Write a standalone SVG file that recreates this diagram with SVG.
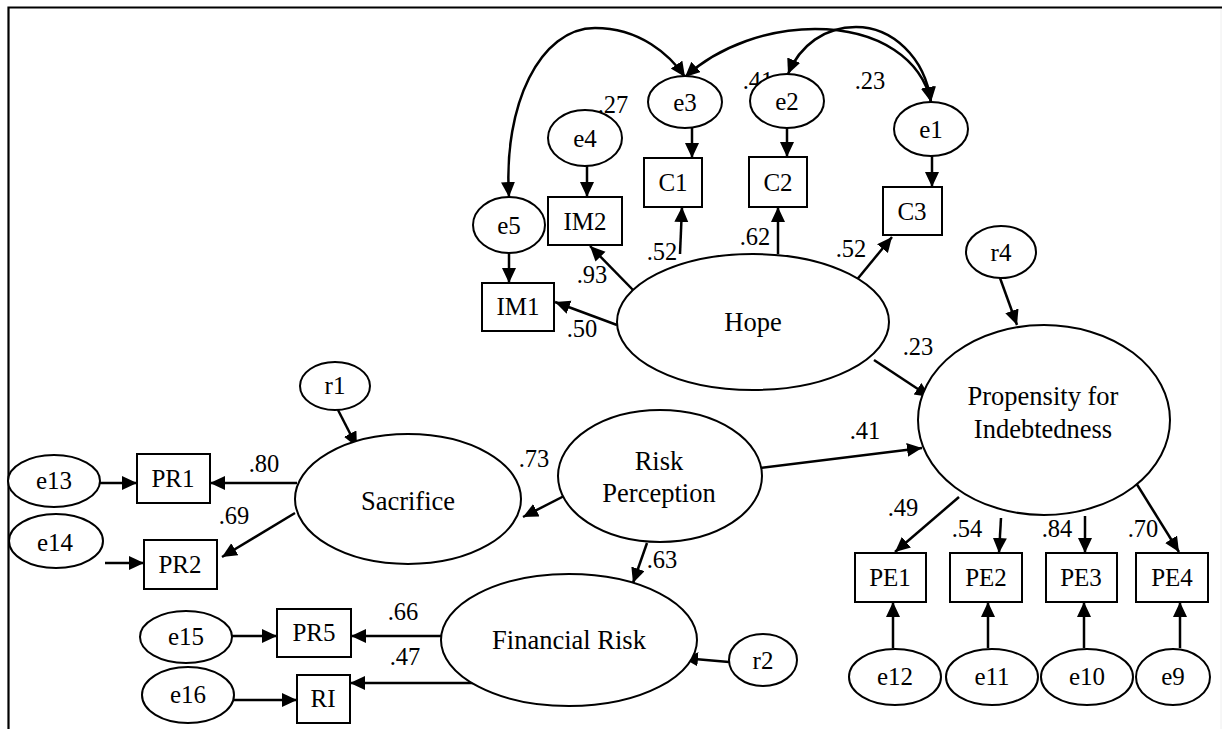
<svg xmlns="http://www.w3.org/2000/svg" width="1222" height="729" viewBox="0 0 1222 729">
<style>
text{font-family:"Liberation Serif","Times New Roman","DejaVu Serif",serif;font-size:25px;fill:#000;text-anchor:middle}
.big text{font-size:26.5px}
#labels text{font-size:24.5px}
.n ellipse,.n rect{fill:#fff;stroke:#000;stroke-width:2}
.c line,.c path{stroke:#000;stroke-width:2.5;fill:none}
.a{marker-end:url(#ah)}
.b{marker-start:url(#ah);marker-end:url(#ah)}
</style>
<defs>
<marker id="ah" markerUnits="userSpaceOnUse" markerWidth="16" markerHeight="15" refX="15" refY="7" orient="auto-start-reverse"><path d="M0,0 L15,7 L0,14 Z" fill="#000"/></marker>
</defs>
<rect width="1222" height="729" fill="#fff"/>
<path d="M8.5,729 L8.5,7.5 L1222,7.5" fill="none" stroke="#000" stroke-width="2.2"/>
<line x1="1221" y1="9" x2="1221" y2="729" stroke="#eee" stroke-width="1"/>

<g class="c" id="connectors">
<path class="b" d="M509,197 C503,105 540,28 595,28 C640,28 670,55 685,77"/>
<path class="b" d="M685,77 C720,45 770,29 815,29 C880,29 922,60 931,102"/>
<path class="b" d="M788,74 C800,45 825,27 856,27 C892,27 925,57 931,102"/>
<line class="a" x1="509" y1="253" x2="509" y2="283"/>
<line class="a" x1="587" y1="166" x2="587" y2="197"/>
<line class="a" x1="692" y1="128" x2="692" y2="158"/>
<line class="a" x1="787" y1="128" x2="787" y2="157"/>
<line class="a" x1="932" y1="156" x2="932" y2="187"/>
<line class="a" x1="617" y1="325" x2="555" y2="302"/>
<line class="a" x1="635" y1="292" x2="590" y2="246"/>
<line class="a" x1="680" y1="254" x2="682" y2="207"/>
<line class="a" x1="778" y1="254" x2="778" y2="207"/>
<line class="a" x1="855" y1="282" x2="892" y2="237"/>
<line class="a" x1="874" y1="360" x2="930" y2="397"/>
<line class="a" x1="760" y1="468" x2="922" y2="448"/>
<line class="a" x1="1000" y1="278" x2="1017" y2="325"/>
<line class="a" x1="568" y1="494" x2="523" y2="517"/>
<line class="a" x1="647" y1="543" x2="633" y2="583"/>
<line class="a" x1="338" y1="410" x2="357" y2="447"/>
<line class="a" x1="100" y1="483" x2="137" y2="483"/>
<line class="a" x1="297" y1="483" x2="210" y2="483"/>
<line class="a" x1="295" y1="513" x2="222" y2="557"/>
<line class="a" x1="105" y1="563" x2="144" y2="563"/>
<line class="a" x1="232" y1="636" x2="277" y2="636"/>
<line class="a" x1="442" y1="636" x2="351" y2="636"/>
<line class="a" x1="473" y1="683" x2="350" y2="683"/>
<line class="a" x1="233" y1="700" x2="297" y2="700"/>
<line class="a" x1="729" y1="662" x2="683" y2="658"/>
<line class="a" x1="959" y1="497" x2="895" y2="552"/>
<line class="a" x1="1001" y1="518" x2="999" y2="553"/>
<line class="a" x1="1085" y1="516" x2="1085" y2="553"/>
<line class="a" x1="1128" y1="470" x2="1179" y2="552"/>
<line class="a" x1="893" y1="648" x2="893" y2="602"/>
<line class="a" x1="988" y1="648" x2="988" y2="602"/>
<line class="a" x1="1084" y1="648" x2="1084" y2="602"/>
<line class="a" x1="1180" y1="648" x2="1180" y2="602"/>
</g>

<g id="labels">
<text x="613" y="113">.27</text>
<text x="758" y="89">.41</text>
<text x="870" y="89">.23</text>
<text x="592" y="283">.93</text>
<text x="662" y="260">.52</text>
<text x="755" y="245">.62</text>
<text x="851" y="257">.52</text>
<text x="582" y="337">.50</text>
<text x="918" y="355">.23</text>
<text x="865" y="439">.41</text>
<text x="534" y="467">.73</text>
<text x="264" y="472">.80</text>
<text x="234" y="524">.69</text>
<text x="662" y="568">.63</text>
<text x="403" y="620">.66</text>
<text x="405" y="665">.47</text>
<text x="903" y="516">.49</text>
<text x="967" y="537">.54</text>
<text x="1057" y="537">.84</text>
<text x="1143" y="537">.70</text>
</g>

<g class="n" id="e3"><ellipse cx="685" cy="102" rx="37" ry="26"/><text x="685" y="111">e3</text></g>
<g class="n" id="e2"><ellipse cx="787" cy="101" rx="37" ry="27"/><text x="787" y="110">e2</text></g>
<g class="n" id="e1"><ellipse cx="931" cy="129" rx="37" ry="27"/><text x="931" y="138">e1</text></g>
<g class="n" id="e4"><ellipse cx="585" cy="138" rx="37" ry="28"/><text x="585" y="147">e4</text></g>
<g class="n" id="e5"><ellipse cx="509" cy="225" rx="36" ry="28"/><text x="509" y="234">e5</text></g>
<g class="n" id="C1"><rect x="644" y="158" width="58" height="49"/><text x="673" y="191">C1</text></g>
<g class="n" id="C2"><rect x="749" y="157" width="58" height="50"/><text x="778" y="191">C2</text></g>
<g class="n" id="C3"><rect x="883" y="187" width="59" height="48"/><text x="912" y="220">C3</text></g>
<g class="n" id="IM2"><rect x="548" y="197" width="74" height="48"/><text x="585" y="230">IM2</text></g>
<g class="n" id="IM1"><rect x="482" y="283" width="72" height="48"/><text x="518" y="315">IM1</text></g>
<g class="n big" id="Hope"><ellipse cx="753" cy="322" rx="136" ry="68"/><text x="753" y="331">Hope</text></g>
<g class="n" id="r4"><ellipse cx="1001" cy="252" rx="35" ry="26"/><text x="1001" y="261">r4</text></g>
<g class="n big" id="Propensity"><ellipse cx="1044" cy="420" rx="126" ry="95"/><text x="1043" y="405">Propensity for</text><text x="1043" y="438">Indebtedness</text></g>
<g class="n big" id="RiskPerception"><ellipse cx="660" cy="476" rx="102" ry="66"/><text x="659" y="470">Risk</text><text x="659" y="502">Perception</text></g>
<g class="n big" id="Sacrifice"><ellipse cx="408" cy="499" rx="113" ry="65"/><text x="408" y="510">Sacrifice</text></g>
<g class="n" id="r1"><ellipse cx="335" cy="386" rx="35" ry="24"/><text x="335" y="394">r1</text></g>
<g class="n" id="e13"><ellipse cx="54" cy="481" rx="46" ry="26"/><text x="54" y="489">e13</text></g>
<g class="n" id="PR1"><rect x="137" y="454" width="73" height="49"/><text x="173" y="487">PR1</text></g>
<g class="n" id="e14"><ellipse cx="56" cy="541" rx="47" ry="27"/><text x="55" y="551">e14</text></g>
<g class="n" id="PR2"><rect x="144" y="540" width="73" height="49"/><text x="180" y="573">PR2</text></g>
<g class="n big" id="FinancialRisk"><ellipse cx="569" cy="640" rx="128" ry="66"/><text x="569" y="649">Financial Risk</text></g>
<g class="n" id="r2"><ellipse cx="763" cy="660" rx="34" ry="26"/><text x="763" y="669">r2</text></g>
<g class="n" id="e15"><ellipse cx="186" cy="637" rx="46" ry="26"/><text x="186" y="645">e15</text></g>
<g class="n" id="PR5"><rect x="277" y="609" width="74" height="48"/><text x="314" y="641">PR5</text></g>
<g class="n" id="e16"><ellipse cx="188" cy="695" rx="46" ry="28"/><text x="188" y="703">e16</text></g>
<g class="n" id="RI"><rect x="297" y="675" width="53" height="48"/><text x="323" y="707">RI</text></g>
<g class="n" id="PE1"><rect x="855" y="553" width="71" height="49"/><text x="890" y="586">PE1</text></g>
<g class="n" id="PE2"><rect x="950" y="553" width="72" height="49"/><text x="986" y="586">PE2</text></g>
<g class="n" id="PE3"><rect x="1046" y="553" width="71" height="49"/><text x="1081" y="586">PE3</text></g>
<g class="n" id="PE4"><rect x="1136" y="553" width="72" height="49"/><text x="1172" y="586">PE4</text></g>
<g class="n" id="e12"><ellipse cx="895" cy="677" rx="46" ry="28"/><text x="895" y="685">e12</text></g>
<g class="n" id="e11"><ellipse cx="992" cy="677" rx="46" ry="28"/><text x="992" y="685">e11</text></g>
<g class="n" id="e10"><ellipse cx="1087" cy="677" rx="46" ry="28"/><text x="1087" y="685">e10</text></g>
<g class="n" id="e9"><ellipse cx="1173" cy="677" rx="37" ry="28"/><text x="1173" y="685">e9</text></g>
</svg>
